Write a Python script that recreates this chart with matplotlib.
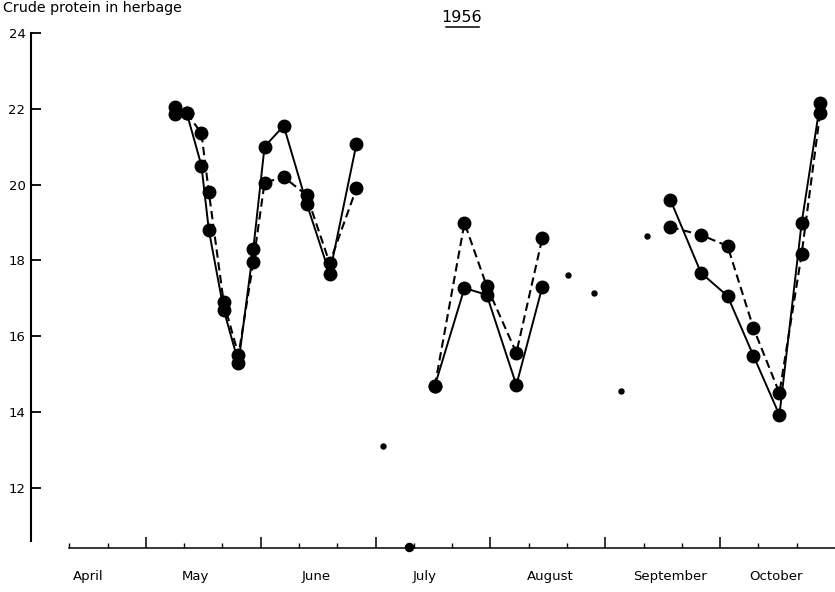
import calendar
import matplotlib
matplotlib.use("Agg")
import matplotlib.pyplot as plt
from matplotlib.lines import Line2D
from matplotlib.ticker import FixedLocator

# sampling dates (MM-DD, 1956) and crude protein (%) for the two treatments
may_june_dates = ["05-09", "05-12", "05-16", "05-18", "05-22", "05-26",
                  "05-30", "06-02", "06-07", "06-13", "06-19", "06-26"]
may_june_solid = [21.85, 21.9, 20.5, 18.8, 16.7, 15.3, 18.3, 21.0, 21.55, 19.5, 17.65, 21.07]
may_june_dashed = [22.05, 21.9, 21.35, 19.8, 16.9, 15.5, 17.95, 20.05, 20.2, 19.72, 17.93, 19.9]

july_aug_dates = ["07-17", "07-25", "07-31", "08-08", "08-15"]
july_aug_solid = [14.69, 17.27, 17.09, 14.71, 17.3]
july_aug_dashed = [14.69, 18.99, 17.32, 15.56, 18.59]

sep_oct_dates = ["09-18", "09-26", "10-03", "10-10", "10-17", "10-23", "10-28"]
sep_oct_solid = [19.6, 17.67, 17.06, 15.48, 13.92, 18.99, 22.15]
sep_oct_dashed = [18.88, 18.67, 18.38, 16.21, 14.5, 18.17, 21.9]

# odd single samples between the runs
single_dates = ["07-03", "07-10", "08-22", "08-29", "09-05", "09-12"]
single_values = [13.1, 10.44, 17.61, 17.14, 14.55, 18.64]
single_sizes = [3.6, 5.8, 3.6, 3.6, 3.6, 3.6]

months = ["April", "May", "June", "July", "August", "September", "October"]
month_label_pos = [0.5, 1.43, 2.48, 3.43, 4.52, 5.56, 6.49]
y_ticks = [12, 14, 16, 18, 20, 22, 24]


def month_pos(md):
    # x scale: one unit per month, April 1st = 0
    m, d = (int(s) for s in md.split("-"))
    ndays = calendar.monthrange(1956, m)[1]
    return (m - 4) + (d - 1) / ndays


fig = plt.figure(figsize=(8.35, 5.92), dpi=100)
ax = fig.add_axes([31 / 835, 44 / 592, 804 / 835, 515 / 592])

big = dict(marker="o", markersize=9, color="black", markerfacecolor="black", clip_on=False)
for dates, solid, dashed in [(may_june_dates, may_june_solid, may_june_dashed),
                             (july_aug_dates, july_aug_solid, july_aug_dashed),
                             (sep_oct_dates, sep_oct_solid, sep_oct_dashed)]:
    xs = [month_pos(d) for d in dates]
    ax.plot(xs, dashed, linestyle=(0, (4, 2.2)), linewidth=1.5, **big)
    ax.plot(xs, solid, linestyle="-", linewidth=1.4, **big)

for d, v, s in zip(single_dates, single_values, single_sizes):
    ax.plot([month_pos(d)], [v], "o", color="black", markersize=s, clip_on=False, zorder=4)

ax.set_xlim(0, 7.0)
ax.set_ylim(10.41, 24)

for side in ["top", "right"]:
    ax.spines[side].set_visible(False)
ax.spines["left"].set_bounds(10.6, 24)
ax.spines["left"].set_linewidth(1.5)
ax.spines["bottom"].set_bounds(1 / 3, 7.0)
ax.spines["bottom"].set_linewidth(1.1)

ax.set_yticks(y_ticks)
ax.set_yticklabels([str(t) for t in y_ticks])
ax.tick_params(axis="y", direction="in", length=7, width=1.3, pad=4, labelsize=9.5)

ax.xaxis.set_major_locator(FixedLocator(range(1, 7)))
ax.xaxis.set_minor_locator(FixedLocator([k / 3 for k in range(1, 21) if k % 3]))
ax.tick_params(axis="x", which="major", direction="in", length=8, width=1.1, labelbottom=False)
ax.tick_params(axis="x", which="minor", direction="in", length=3.5, width=1.0)

trans = ax.get_xaxis_transform()
for pos, name in zip(month_label_pos, months):
    ax.text(pos, -0.056, name, transform=trans, ha="center", va="center", fontsize=9.5)

fig.text(3 / 835, 1 - 1 / 592, "Crude protein in herbage", ha="left", va="top", fontsize=10.3)
fig.text(462 / 835, 1 - 18 / 592, "1956", ha="center", va="center", fontsize=11.5)
fig.add_artist(Line2D([446 / 835, 479 / 835], [1 - 27 / 592, 1 - 27 / 592],
                      color="black", linewidth=1.1))

fig.savefig("out.png", dpi=100, facecolor="white")
